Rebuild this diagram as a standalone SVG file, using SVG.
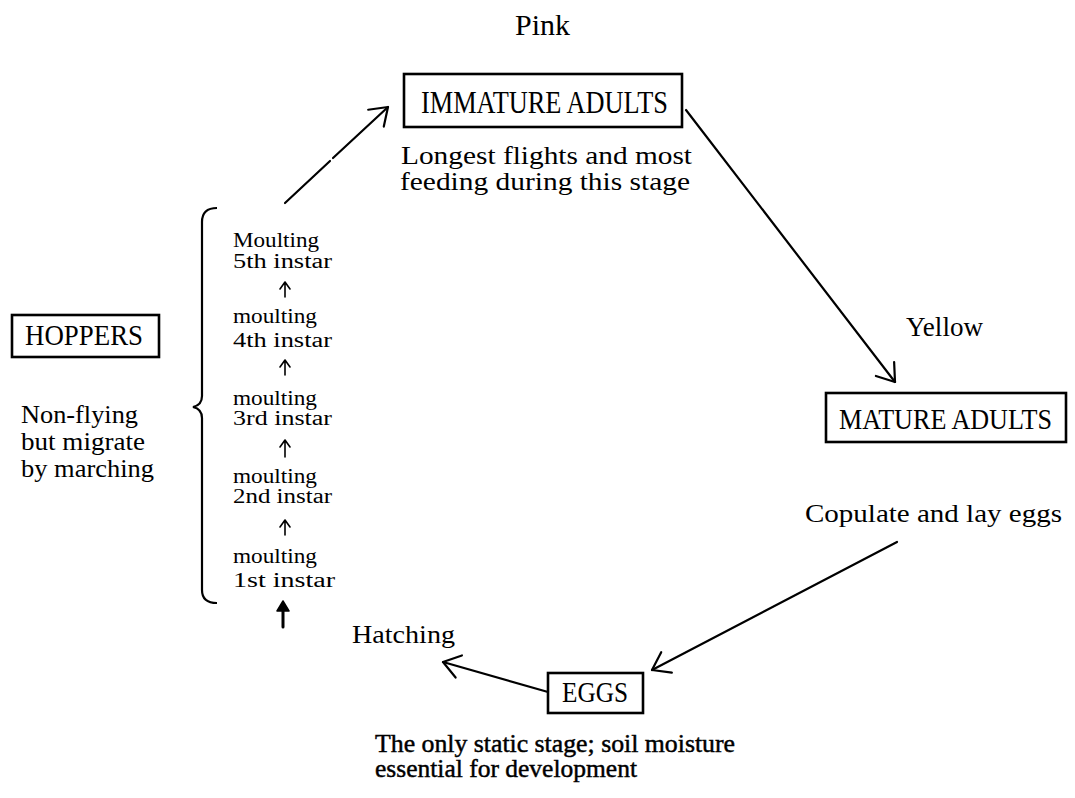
<svg xmlns="http://www.w3.org/2000/svg" width="1075" height="798" viewBox="0 0 1075 798">
<style>
.t{font-family:"Liberation Serif","Times New Roman",serif;fill:#000}
.box{fill:none;stroke:#000;stroke-width:2.6}
.conn{fill:none;stroke:#000;stroke-width:2.2;stroke-linecap:round}
.small{fill:none;stroke:#000;stroke-width:1.6;stroke-linecap:round;stroke-linejoin:round}
.bold{stroke:#000;stroke-width:0.45}
</style>
<defs>
<marker id="vhead" markerUnits="userSpaceOnUse" viewBox="-20 -15 25 30" refX="0" refY="0" markerWidth="25" markerHeight="30" orient="auto">
<path d="M-16.4,-11.5 L0,0 L-16.4,11.5" fill="none" stroke="#000" stroke-width="2.2" stroke-linecap="round" stroke-linejoin="round"/>
</marker>
</defs>
<rect width="1075" height="798" fill="#fff"/>

<g id="label-pink"><text class="t" x="515" y="35" font-size="30" textLength="55" lengthAdjust="spacingAndGlyphs">Pink</text></g>
<g id="label-yellow"><text class="t" x="906" y="336" font-size="27" textLength="77" lengthAdjust="spacingAndGlyphs">Yellow</text></g>

<g id="immature-adults">
<rect class="box" x="404" y="74" width="278" height="53"/>
<text class="t" x="421" y="113" font-size="31" textLength="247" lengthAdjust="spacingAndGlyphs">IMMATURE ADULTS</text>
<text class="t" x="401" y="164" font-size="25" textLength="291" lengthAdjust="spacingAndGlyphs">Longest flights and most</text>
<text class="t" x="400" y="190" font-size="25" textLength="290" lengthAdjust="spacingAndGlyphs">feeding during this stage</text>
</g>

<g id="mature-adults">
<rect class="box" x="826" y="393" width="240" height="49"/>
<text class="t" x="839" y="429" font-size="29" textLength="213" lengthAdjust="spacingAndGlyphs">MATURE ADULTS</text>
<text class="t" x="805" y="522" font-size="26" textLength="257" lengthAdjust="spacingAndGlyphs">Copulate and lay eggs</text>
</g>

<g id="eggs">
<rect class="box" x="548" y="673" width="95" height="40"/>
<text class="t" x="562" y="702" font-size="29" textLength="66" lengthAdjust="spacingAndGlyphs">EGGS</text>
<text class="t bold" x="375" y="752" font-size="25" textLength="360" lengthAdjust="spacingAndGlyphs">The only static stage; soil moisture</text>
<text class="t bold" x="375" y="777" font-size="25" textLength="262" lengthAdjust="spacingAndGlyphs">essential for development</text>
</g>

<g id="hatching"><text class="t" x="352" y="643" font-size="25" textLength="103" lengthAdjust="spacingAndGlyphs">Hatching</text></g>

<g id="hoppers">
<rect class="box" x="12" y="315" width="147" height="42"/>
<text class="t" x="25" y="345" font-size="29" textLength="118" lengthAdjust="spacingAndGlyphs">HOPPERS</text>
<text class="t" x="21" y="423" font-size="26" textLength="117" lengthAdjust="spacingAndGlyphs">Non-flying</text>
<text class="t" x="21" y="450" font-size="26" textLength="124" lengthAdjust="spacingAndGlyphs">but migrate</text>
<text class="t" x="21" y="477" font-size="26" textLength="133" lengthAdjust="spacingAndGlyphs">by marching</text>
<path d="M217,208 Q202,208 202,222 L202,396 Q202,405 193,407 Q202,409 202,418 L202,590 Q202,603 217,603" fill="none" stroke="#000" stroke-width="2.2"/>
</g>

<g id="instars">
<text class="t" x="233" y="247" font-size="20" textLength="86" lengthAdjust="spacingAndGlyphs">Moulting</text>
<text class="t" x="233" y="268" font-size="20" textLength="99" lengthAdjust="spacingAndGlyphs">5th instar</text>
<text class="t" x="233" y="323" font-size="20" textLength="84" lengthAdjust="spacingAndGlyphs">moulting</text>
<text class="t" x="233" y="347" font-size="20" textLength="99" lengthAdjust="spacingAndGlyphs">4th instar</text>
<text class="t" x="233" y="405" font-size="20" textLength="84" lengthAdjust="spacingAndGlyphs">moulting</text>
<text class="t" x="233" y="425" font-size="20" textLength="99" lengthAdjust="spacingAndGlyphs">3rd instar</text>
<text class="t" x="233" y="483" font-size="20" textLength="84" lengthAdjust="spacingAndGlyphs">moulting</text>
<text class="t" x="233" y="503" font-size="20" textLength="99" lengthAdjust="spacingAndGlyphs">2nd instar</text>
<text class="t" x="233" y="563" font-size="20" textLength="84" lengthAdjust="spacingAndGlyphs">moulting</text>
<text class="t" x="233" y="587" font-size="20" textLength="102" lengthAdjust="spacingAndGlyphs">1st instar</text>
</g>

<g id="connectors">
<path class="conn" d="M285,203 L330,161" stroke-width="3"/>
<path class="conn" d="M333,158 L388,107" marker-end="url(#vhead)"/>
<path class="conn" d="M686,110 L895,382" marker-end="url(#vhead)"/>
<path class="conn" d="M897,542 L652,670" marker-end="url(#vhead)"/>
<path class="conn" d="M548,692 L443,662" marker-end="url(#vhead)"/>
<path class="small" d="M285,297 L285,283 M280,289 L285,282 L290,289"/>
<path class="small" d="M285,375 L285,361 M280,367 L285,360 L290,367"/>
<path class="small" d="M285,457 L285,441 M280,447 L285,440 L290,447"/>
<path class="small" d="M285,535 L285,521 M280,527 L285,520 L290,527"/>
<path d="M283,627 L283,608" stroke="#000" stroke-width="3" stroke-linecap="round"/>
<path d="M277,611 L283,601 L289,611 Z" fill="#000" stroke="#000" stroke-width="1.5" stroke-linejoin="round"/>
</g>
</svg>
